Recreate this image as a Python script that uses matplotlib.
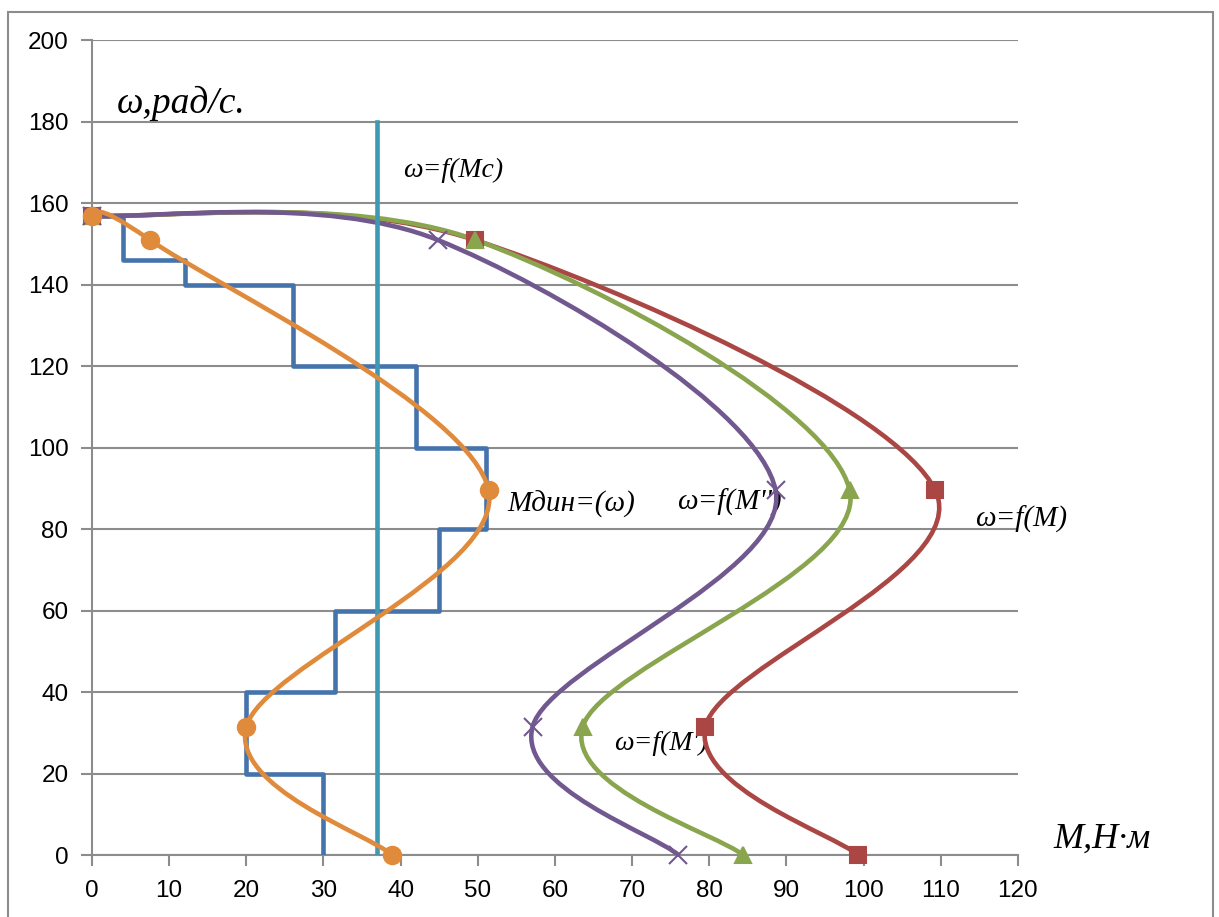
import numpy as np
import matplotlib.pyplot as plt
from matplotlib.path import Path
from matplotlib.patches import PathPatch, Rectangle

# data
m_red = [0, 49.6, 109.3, 79.5, 99.3]          # omega = f(M)
m_green = [0, 49.7, 98.2, 63.6, 84.4]         # omega = f(M')
m_purple = [0, 44.8, 88.6, 57.1, 76.0]        # omega = f(M'')
m_orange = [0, 7.5, 51.4, 20.0, 38.9]         # M din
w_points = [157, 151, 89.5, 31.5, 0]

step_m = [0, 4, 4, 12, 12, 26, 26, 42, 42, 51, 51, 45, 45, 31.5, 31.5, 20, 20, 30, 30]
step_w = [157, 157, 146, 146, 140, 140, 120, 120, 100, 100, 80, 80, 60, 60, 40, 40, 20, 20, 0]

mc_value = 37
mc_w = [0, 180]

x_ticks = list(range(0, 121, 10))
y_ticks = list(range(0, 201, 20))

c_blue = '#4573AB'
c_red = '#AA4643'
c_green = '#89A54E'
c_purple = '#71588F'
c_teal = '#3E9AB3'
c_orange = '#E08A3C'


def smooth_path(xs, ys):
    # excel-like smoothed line (catmull-rom as bezier)
    pts = np.column_stack([xs, ys]).astype(float)
    n = len(pts)
    verts = [pts[0]]
    codes = [Path.MOVETO]
    for i in range(n - 1):
        p0 = pts[i - 1] if i > 0 else pts[i]
        p1 = pts[i]
        p2 = pts[i + 1]
        p3 = pts[i + 2] if i + 2 < n else pts[i + 1]
        verts += [p1 + (p2 - p0) / 6, p2 - (p3 - p1) / 6, p2]
        codes += [Path.CURVE4] * 3
    return Path(verts, codes)


fig = plt.figure(figsize=(12.19, 9.17), dpi=100)
ax = fig.add_axes([0.0755, 0.0676, 0.7595, 0.8884])

lw = 3.3
ax.plot(step_m, step_w, color=c_blue, lw=lw, zorder=3)

for xs, col, mk, ms in [(m_red, c_red, 's', 12), (m_green, c_green, '^', 12),
                        (m_purple, c_purple, 'x', 13)]:
    ax.add_patch(PathPatch(smooth_path(xs, w_points), fill=False, edgecolor=col, lw=lw, zorder=4))
    ax.plot(xs, w_points, linestyle='none', marker=mk, color=col, markersize=ms,
            markeredgewidth=1.5, zorder=5, clip_on=False)

ax.plot([mc_value, mc_value], mc_w, color=c_teal, lw=lw, zorder=6)

ax.add_patch(PathPatch(smooth_path(m_orange, w_points), fill=False, edgecolor=c_orange, lw=lw, zorder=7))
ax.plot(m_orange, w_points, linestyle='none', marker='o', color=c_orange, markersize=13,
        zorder=8, clip_on=False)

ax.set_xlim(0, 120)
ax.set_ylim(0, 200)
ax.set_xticks(x_ticks)
ax.set_yticks(y_ticks)
ax.grid(axis='y', color='#8c8c8c', lw=1.5)
ax.set_axisbelow(True)
for s in ['top', 'right']:
    ax.spines[s].set_visible(False)
for s in ['left', 'bottom']:
    ax.spines[s].set_color('#8c8c8c')
    ax.spines[s].set_linewidth(1.5)
ax.tick_params(colors='#8c8c8c', length=8, width=1.5, labelcolor='black')
ax.tick_params(axis='x', pad=10)
ax.tick_params(axis='y', pad=9)
for lab in ax.get_xticklabels() + ax.get_yticklabels():
    lab.set_fontfamily('Liberation Sans')
    lab.set_fontsize(17.5)

serif = dict(family='Liberation Serif', style='italic')
ax.text(3.2, 184.5, 'ω,рад/с.', fontsize=27, va='center', ha='left', **serif)
ax.text(40.3, 168, 'ω=f(Mc)', fontsize=20, va='center', ha='left', **serif)
ax.text(53.8, 86, 'Мдин=(ω)', fontsize=21, va='center', ha='left', **serif)
ax.text(75.8, 86.5, "ω=f(M'')", fontsize=21, va='center', ha='left', **serif)
ax.text(114.5, 82.3, 'ω=f(M)', fontsize=21, va='center', ha='left', **serif)
ax.text(67.6, 27.5, "ω=f(M')", fontsize=20, va='center', ha='left', **serif)
ax.text(124.6, 3.8, 'M,Н·м', fontsize=26, va='center', ha='left', clip_on=False, **serif)

fig.patches.append(Rectangle((8 / 1219, -0.01), 1205 / 1219, (917 - 12) / 917 + 0.01,
                             transform=fig.transFigure, fill=False,
                             edgecolor='#8c8c8c', lw=1.5))

fig.savefig('out.png', dpi=100)
